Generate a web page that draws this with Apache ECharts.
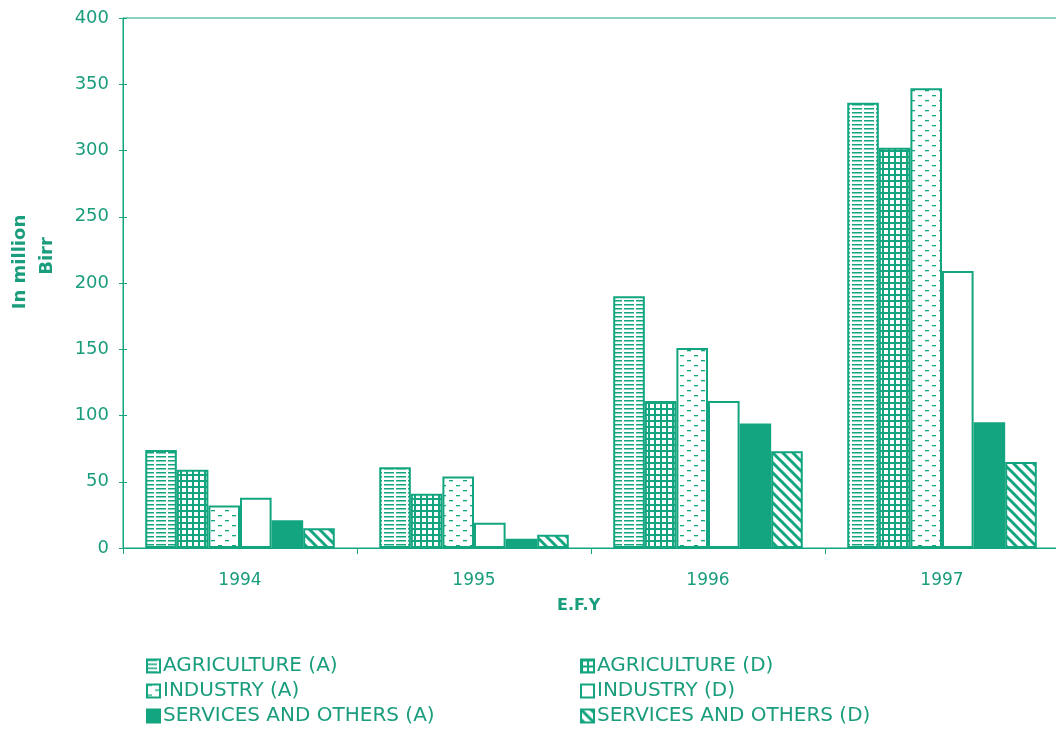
<!DOCTYPE html>
<html>
<head>
<meta charset="utf-8">
<script src="https://cdn.jsdelivr.net/npm/echarts@6/dist/echarts.min.js"></script>
<style>
html,body{margin:0;padding:0;background:#fff;}
#chart{width:1056px;height:731px;}
</style>
</head>
<body>
<div id="chart"></div>
<script>
const categories = ['1994', '1995', '1996', '1997'];
const agricultureA = [74, 61, 190, 336];
const agricultureD = [59, 41, 111, 302];
const industryA = [32, 54, 151, 347];
const industryD = [38, 19, 111, 209];
const servicesA = [21, 7, 94, 95];
const servicesD = [15, 10, 73, 65];
const seriesNames = ['AGRICULTURE (A)', 'AGRICULTURE (D)', 'INDUSTRY (A)', 'INDUSTRY (D)', 'SERVICES AND OTHERS (A)', 'SERVICES AND OTHERS (D)'];
const yTicks = [0, 50, 100, 150, 200, 250, 300, 350, 400];
const yNameLines = ['In million', 'Birr'];
const xName = 'E.F.Y';

const G = '#12a57f';
const TXT = '#1a9d7d';
const FONT = 'DejaVu Sans';

function makePattern(w, h, draw) {
  const c = document.createElement('canvas');
  c.width = w; c.height = h;
  const ctx = c.getContext('2d');
  ctx.fillStyle = '#fff';
  ctx.fillRect(0, 0, w, h);
  ctx.fillStyle = G;
  ctx.strokeStyle = G;
  draw(ctx);
  return { image: c, repeat: 'repeat' };
}
const patAgrA = makePattern(12, 4, ctx => {
  ctx.fillRect(0, 0, 10, 1.5);
});
const patAgrD = makePattern(6, 6, ctx => {
  ctx.fillRect(0, 0, 6, 2);
  ctx.fillRect(0, 0, 2, 6);
});
const patIndA = makePattern(14, 10, ctx => {
  ctx.fillRect(1, 0, 4, 1.3);
  ctx.fillRect(8, 5, 4, 1.3);
});
const patServD = makePattern(10, 10, ctx => {
  ctx.lineWidth = 3;
  ctx.beginPath();
  ctx.moveTo(-2, -2); ctx.lineTo(12, 12);
  ctx.moveTo(-2, 8); ctx.lineTo(2, 12);
  ctx.moveTo(8, -2); ctx.lineTo(12, 2);
  ctx.stroke();
});

const dataArr = [agricultureA, agricultureD, industryA, industryD, servicesA, servicesD];
const fills = [patAgrA, patAgrD, patIndA, '#ffffff', G, patServD];

const series = seriesNames.map((n, i) => ({
  name: n,
  type: 'bar',
  data: dataArr[i],
  barGap: '0%',
  barCategoryGap: '19%',
  itemStyle: { color: fills[i], borderColor: G, borderWidth: 2 },
  emphasis: { disabled: true }
}));

const legendCommon = {
  orient: 'vertical', top: 651, height: 80, itemWidth: 13, itemHeight: 13, itemGap: 5,
  icon: 'rect',
  textStyle: { color: TXT, fontSize: 20, fontFamily: FONT, padding: [0, 0, 0, -2] }
};

const chart = echarts.init(document.getElementById('chart'), null, { renderer: 'canvas' });
chart.setOption({
  backgroundColor: '#ffffff',
  animation: false,
  grid: { left: 123, top: 18, right: -3, bottom: 183, show: true, borderColor: G, borderWidth: 1,
          containLabel: false, outerBoundsMode: 'none' },
  legend: [
    Object.assign({}, legendCommon, { left: 141, data: [seriesNames[0], seriesNames[2], seriesNames[4]] }),
    Object.assign({}, legendCommon, { left: 575, data: [seriesNames[1], seriesNames[3], seriesNames[5]] })
  ],
  xAxis: {
    type: 'category',
    data: categories,
    axisLine: { lineStyle: { color: G, width: 1 } },
    axisTick: { show: true, length: 6, lineStyle: { color: G } },
    axisLabel: { color: TXT, fontSize: 17, fontFamily: FONT, margin: 24 }
  },
  yAxis: [{
    type: 'value',
    min: 0, max: 400, interval: 50,
    axisLine: { show: true, lineStyle: { color: G, width: 1 } },
    axisTick: { show: true, length: 4, lineStyle: { color: G } },
    axisLabel: { color: TXT, fontSize: 18, fontFamily: FONT, margin: 14,
      formatter: v => yTicks.includes(v) ? String(v) : '' },
    splitLine: { show: false }
  }, {
    type: 'value',
    position: 'left',
    min: 0, max: 400, interval: 50,
    axisLine: { show: false },
    axisTick: { show: true, inside: true, length: 4, lineStyle: { color: G } },
    axisLabel: { show: false },
    splitLine: { show: false }
  }],
  graphic: [{
    type: 'text', left: 557, top: 598,
    style: { text: xName, fill: TXT, font: 'bold 16px "DejaVu Sans"' }
  }, {
    type: 'text', x: 20, y: 262, rotation: Math.PI / 2,
    style: { text: yNameLines[0], fill: TXT, font: 'bold 18px "DejaVu Sans"', align: 'center', verticalAlign: 'middle' }
  }, {
    type: 'text', x: 47, y: 256, rotation: Math.PI / 2,
    style: { text: yNameLines[1], fill: TXT, font: 'bold 18px "DejaVu Sans"', align: 'center', verticalAlign: 'middle' }
  }],
  series: series
});
</script>
</body>
</html>
